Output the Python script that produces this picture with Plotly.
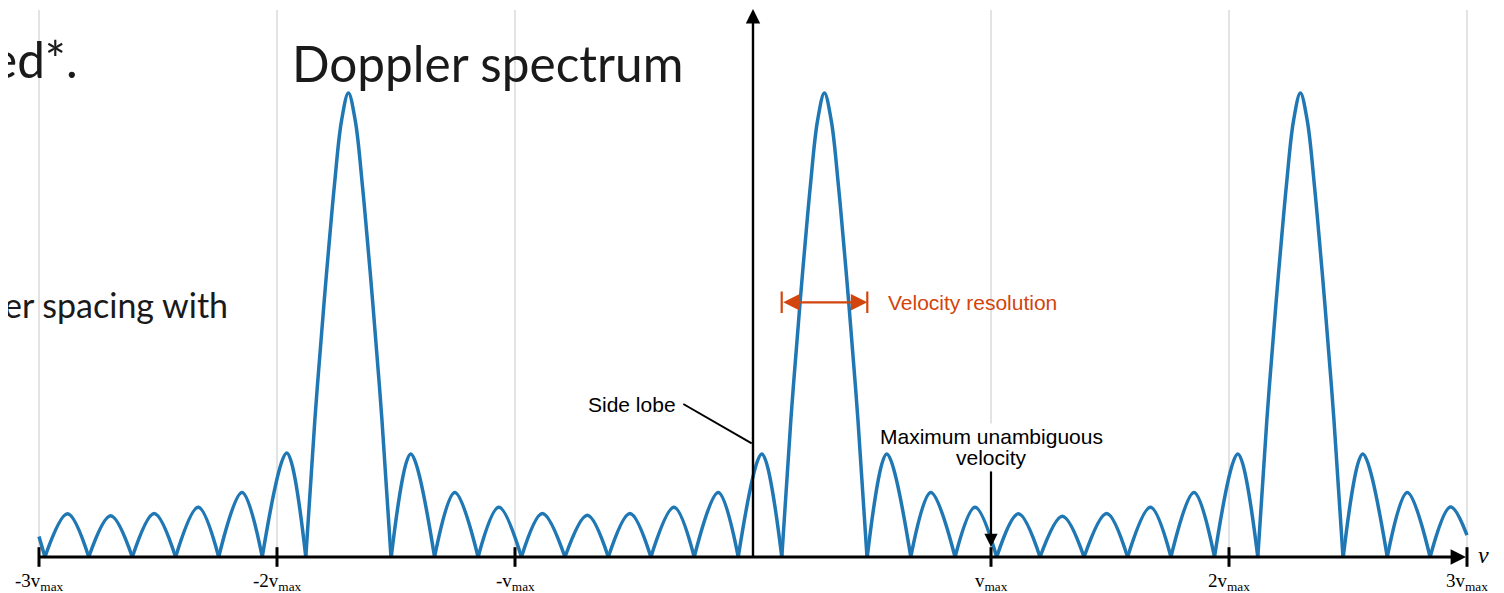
import plotly.graph_objects as go

# ---------------- data (velocity in units of v_max, amplitude relative to main peak) ----------------
zero_v = [-2.975, -2.791, -2.608, -2.426, -2.245, -2.062, -1.879,
          -1.520, -1.338, -1.155, -0.973, -0.790, -0.608, -0.429, -0.247, -0.062, 0.121,
          0.480, 0.663, 0.849, 1.024, 1.206, 1.391, 1.574, 1.756, 1.939, 2.121,
          2.480, 2.665, 2.845]

side_peak_v = [-2.880, -2.699, -2.516, -2.331, -2.147, -1.959,
               -1.438, -1.253, -1.068, -0.885, -0.696, -0.517, -0.332, -0.146, 0.037,
               0.562, 0.747, 0.933, 1.115, 1.300, 1.486, 1.670, 1.853, 2.037,
               2.562, 2.749]
side_peak_amp = [0.093, 0.089, 0.094, 0.107, 0.139, 0.224,
                 0.222, 0.139, 0.107, 0.094, 0.090, 0.094, 0.107, 0.139, 0.222,
                 0.222, 0.139, 0.107, 0.093, 0.088, 0.094, 0.107, 0.139, 0.222,
                 0.222, 0.139]

main_center_v = [-1.700, 0.300, 2.300]
main_offset_v = [-0.179, -0.141, -0.102, -0.084, -0.059, -0.029, 0.0,
                 0.029, 0.059, 0.084, 0.102, 0.141, 0.179]
main_amp = [0.0, 0.295, 0.550, 0.658, 0.800, 0.940, 1.0,
            0.940, 0.800, 0.658, 0.550, 0.295, 0.0]

start_v, start_amp = -3.0, 0.044
tail_peak_v, tail_peak_amp = 2.931, 0.108
end_v, end_amp = 3.0, 0.047

tick_v = [-3, -2, -1, 1, 2, 3]
tick_labels = ["-3v<sub>max</sub>", "-2v<sub>max</sub>", "-v<sub>max</sub>",
               "v<sub>max</sub>", "2v<sub>max</sub>", "3v<sub>max</sub>"]

# ---------------- build lobe segments ----------------
xs, ys = [], []


def add_seg(sx, sy):
    xs.extend(sx + [None])
    ys.extend(sy + [None])


add_seg([start_v, zero_v[0]], [start_amp, 0.0])
for a, b in zip(zero_v[:-1], zero_v[1:]):
    peaks = [(p, h) for p, h in zip(side_peak_v, side_peak_amp) if a < p < b]
    if peaks:
        p, h = peaks[0]
        add_seg([a, p, b], [0.0, h, 0.0])
    else:
        for c in main_center_v:
            if a < c < b:
                add_seg([c + o for o in main_offset_v], list(main_amp))
add_seg([zero_v[-1], tail_peak_v, end_v], [0.0, tail_peak_amp, end_amp])

# page geometry: the figure sits 8 px in from the page corner (body margin)
PAGE_W, PAGE_H, OFF = 1504, 593, 8
W, H = PAGE_W - OFF, PAGE_H - OFF
# page-pixel mapping: v_max = 238 px, origin at x=753, baseline y=557, unit amp = 464 px
X0, VPX, Y0, APX = 753, 238, 557, 464
xr = [(OFF - X0) / VPX, (PAGE_W - X0) / VPX]
yr = [(Y0 - PAGE_H) / APX, (Y0 - OFF) / APX]


def px(x):
    return (x - X0) / VPX


def py(y):
    return (Y0 - y) / APX


fig = go.Figure()

# curve
fig.add_trace(go.Scatter(x=xs, y=ys, mode="lines", connectgaps=False,
                         line=dict(color="#1f77b4", width=3.5, shape="spline", smoothing=1.0),
                         hoverinfo="skip"))

# tick marks crossing the axis
fig.add_trace(go.Scatter(x=tick_v, y=[0] * len(tick_v), mode="markers",
                         marker=dict(symbol="line-ns", size=14,
                                     line=dict(color="black", width=3)),
                         hoverinfo="skip"))

shapes = []
# light vertical grid lines
for t in tick_v:
    shapes.append(dict(type="line", xref="x", yref="y", x0=t, x1=t, y0=0, y1=py(10),
                       line=dict(color="#e0e0e0", width=1.8), layer="below"))
# side lobe leader line
shapes.append(dict(type="line", xref="x", yref="y", x0=px(683.3), y0=py(404),
                   x1=px(751.7), y1=py(443.3), line=dict(color="black", width=2)))
# velocity resolution end bars
RED = "#d2450c"
for xb in (781.7, 867.3):
    shapes.append(dict(type="line", xref="x", yref="y", x0=px(xb), x1=px(xb),
                       y0=py(291.5), y1=py(313), line=dict(color=RED, width=2.2)))

ann = []
# x axis arrow
ann.append(dict(x=px(1466), y=0, ax=px(38), ay=0, xref="x", yref="y", axref="x", ayref="y",
                showarrow=True, arrowhead=2, arrowsize=1.1, arrowwidth=2.8,
                arrowcolor="black", standoff=0, text=""))
# y axis arrow
ann.append(dict(x=0, y=py(9), ax=0, ay=py(558), xref="x", yref="y", axref="x", ayref="y",
                showarrow=True, arrowhead=2, arrowsize=1.2, arrowwidth=2.4,
                arrowcolor="black", standoff=0, text=""))
# max unambiguous velocity arrow
ann.append(dict(x=1, y=py(547), ax=1, ay=py(470), xref="x", yref="y", axref="x", ayref="y",
                showarrow=True, arrowhead=2, arrowsize=1.2, arrowwidth=2.2,
                arrowcolor="black", standoff=0, text=""))
# velocity resolution double arrow
ann.append(dict(x=px(867.3), y=py(302.3), ax=px(781.7), ay=py(302.3), xref="x", yref="y",
                axref="x", ayref="y", showarrow=True, arrowhead=2, startarrowhead=2,
                arrowside="end+start", arrowsize=1.5, startarrowsize=1.5, arrowwidth=2.2,
                arrowcolor=RED, standoff=0, startstandoff=0, text=""))

# tick labels
for t, lab in zip(tick_v, tick_labels):
    ann.append(dict(x=t, y=py(582), xref="x", yref="y", text=lab, showarrow=False,
                    xanchor="center", yanchor="middle",
                    font=dict(family="Liberation Serif", size=19, color="black")))
ann.append(dict(x=px(1483), y=py(555), xref="x", yref="y", text="<i>v</i>", showarrow=False,
                xanchor="center", yanchor="middle",
                font=dict(family="Liberation Serif", size=24, color="black")))

SANS = "Liberation Sans"
ann.append(dict(x=px(886), y=py(302.5), xref="x", yref="y", text="Velocity resolution",
                showarrow=False, xanchor="left", yanchor="middle",
                font=dict(family=SANS, size=21, color=RED)))
ann.append(dict(x=px(678), y=py(404.5), xref="x", yref="y", text="Side lobe",
                showarrow=False, xanchor="right", yanchor="middle",
                font=dict(family=SANS, size=21, color="black")))
ann.append(dict(x=1, y=py(436), xref="x", yref="y", text="Maximum unambiguous",
                showarrow=False, xanchor="center", yanchor="middle", bgcolor="white",
                font=dict(family=SANS, size=21, color="black")))
ann.append(dict(x=1, y=py(457), xref="x", yref="y", text="velocity",
                showarrow=False, xanchor="center", yanchor="middle", bgcolor="white",
                font=dict(family=SANS, size=21, color="black")))

# slide text fragments
SLIDE = "Lato"
ann.append(dict(x=px(487), y=py(63), xref="x", yref="y", text="Doppler spectrum",
                showarrow=False, xanchor="center", yanchor="middle",
                font=dict(family=SLIDE, size=49.5, color="#1a1a1a")))
ann.append(dict(x=px(80), y=py(59), xref="x", yref="y", text="ed*.",
                showarrow=False, xanchor="right", yanchor="middle",
                font=dict(family=SLIDE, size=49.5, color="#1a1a1a")))
ann.append(dict(x=px(230), y=py(304), xref="x", yref="y", text="er spacing with",
                showarrow=False, xanchor="right", yanchor="middle",
                font=dict(family=SLIDE, size=34, color="#1a1a1a")))

fig.update_layout(
    width=W, height=H, margin=dict(l=0, r=0, t=0, b=0),
    paper_bgcolor="white", plot_bgcolor="white", showlegend=False,
    xaxis=dict(range=xr, visible=False, fixedrange=True),
    yaxis=dict(range=yr, visible=False, fixedrange=True),
    shapes=shapes, annotations=ann,
)

fig.write_html("out.html")
